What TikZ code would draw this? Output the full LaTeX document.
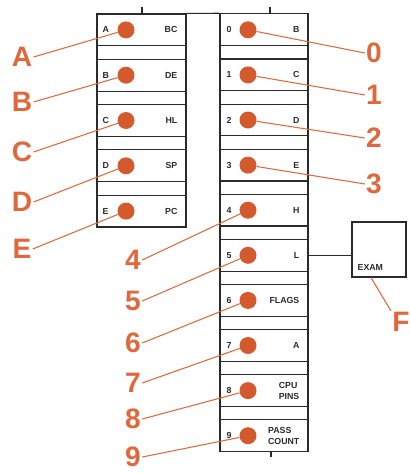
\documentclass[tikz,border=0pt]{standalone}
\usepackage{fontspec}
\setmainfont{Liberation Sans}
\usetikzlibrary{positioning, calc}
\definecolor{dotOrange}{RGB}{212,90,46}
\definecolor{lblOrange}{RGB}{224,104,60}
\definecolor{frameGray}{RGB}{42,42,42}
\def\pxu{0.03cm}
\tikzset{
    % Frames
    frame/.style={draw=frameGray, line width=1pt},
    regrow/.style={rectangle, frame, inner sep=0pt, minimum height=31.8*\pxu},
    leftrow/.style={regrow, minimum width=89*\pxu},
    rightrow/.style={regrow, minimum width=88*\pxu},
    leftstrip/.style={leftrow, minimum height=13.5*\pxu},
    rightstrip/.style={rightrow, minimum height=13.5*\pxu},
    exambox/.style={rectangle, frame, minimum width=54*\pxu, minimum height=55*\pxu},
    % Dots & Labels
    regdot/.style={circle, fill=dotOrange, inner sep=0pt, minimum size=17*\pxu},
    regtxt/.style={font=\fontsize{7.5}{9.5}\selectfont\bfseries, text=frameGray, inner sep=0pt, align=left},
    biglbl/.style={font=\fontsize{24}{24}\selectfont\bfseries, text=lblOrange, inner sep=1pt},
    leader/.style={draw=lblOrange, line width=0.9pt}
}
\begin{document}
\begin{tikzpicture}[x=0.03cm, y=-0.03cm]
\useasboundingbox (0,0) rectangle (409,474);

% left column
\foreach \i/\lt/\rt in {0/A/BC, 1/B/DE, 2/C/HL, 3/D/SP, 4/E/PC} {
    \pgfmathsetmacro\rtop{14+45.3*\i}
    \node[leftrow] (l\i) at (141.5, \rtop+15.9) {};
    \ifnum\i<4 \node[leftstrip] (ls\i) at (141.5, \rtop+38.55) {}; \fi
    \node[regtxt, anchor=west] (la\i) at ($(l\i.west)+(6,0)$) {\lt};
    \node[regtxt, anchor=east] (lb\i) at ($(l\i.east)+(-9,0)$) {\rt};
    \node[regdot] (dl\i) at (126, \rtop+15.9) {};
}

% right column
\foreach \j/\rt in {0/B, 1/C, 2/D, 3/E, 4/H, 5/L, 6/FLAGS, 7/A, 8/{CPU\\PINS}, 9/{PASS\\COUNT}} {
    \pgfmathsetmacro\rtop{14+45.1*\j}
    \node[rightrow] (r\j) at (264, \rtop+15.8) {};
    \ifnum\j<9 \node[rightstrip] (rs\j) at (264, \rtop+38.35) {}; \fi
    \node[regtxt, anchor=west] (ra\j) at ($(r\j.west)+(7,0)$) {\j};
    \node[regtxt, anchor=east] (rb\j) at ($(r\j.east)+(-9,0)$) {\rt};
    \node[regdot] (dr\j) at (248, \rtop+15.8) {};
}

% ticks and top edge
\draw[frame] (l0.north east) -- (r0.north west);
\draw[frame] (142,7) -- (142,14);
\draw[frame] (270,7) -- (270,14);
\draw[frame] (271,451.5) -- (271,457);

% exam box
\node[exambox] (exam) at (379,249.5) {};
\node[regtxt, anchor=south west] (examtxt) at ($(exam.south west)+(6,-7)$) {EXAM};
\draw[frame] (r5.east) -- (r5.east -| exam.west);

% big labels
\foreach \i/\lt/\ly in {0/A/57, 1/B/102, 2/C/152, 3/D/202, 4/E/249} {
    \node[biglbl] (nl\i) at (22,\ly) {\lt};
    \draw[leader] (nl\i.east) -- (dl\i);
}
\foreach \j/\lx/\ly/\side in {0/374/53/west, 1/374/95/west, 2/374/138/west, 3/374/184/west,
                              4/133/260/east, 5/133/301/east, 6/133/343/east, 7/133/383/east,
                              8/133/419/east, 9/133/457/east} {
    \node[biglbl] (nr\j) at (\lx,\ly) {\j};
    \draw[leader] (nr\j.\side) -- (dr\j);
}
\node[biglbl] (nF) at (401,322) {F};
\draw[leader] ($(exam.south)+(-8,0)$) -- (nF.north west);

\end{tikzpicture}
\end{document}
